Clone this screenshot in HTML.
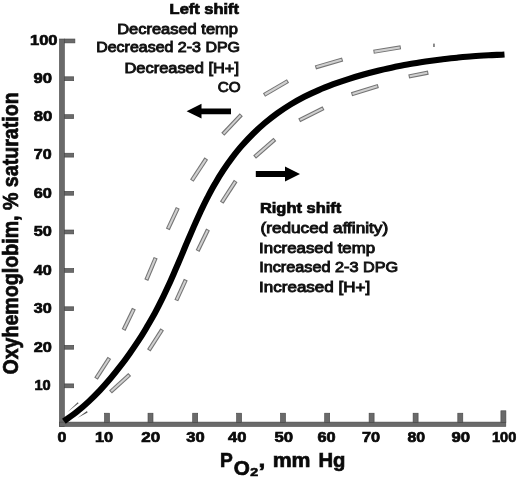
<!DOCTYPE html>
<html><head><meta charset="utf-8"><title>Oxyhemoglobin dissociation curve</title>
<style>html,body{margin:0;padding:0;background:#fff}svg{display:block}text{font-family:"Liberation Sans",Arial,Helvetica,sans-serif;fill:#111}.b{font-weight:bold}.n{stroke:#111;stroke-width:.9px}.b{stroke:#0a0a0a;stroke-width:.7px;fill:#0a0a0a}</style></head><body>
<svg width="520" height="478" viewBox="0 0 520 478">
<rect width="520" height="478" fill="#fff"/>
<g fill="#6a6a6a" stroke="#444" stroke-width="0.6">
<rect x="59.5" y="39" width="4.8" height="387.4"/>
<rect x="59.5" y="422.1" width="446.3" height="4.3"/>
<rect x="64.3" y="39.0" width="10.6" height="3.9"/>
<rect x="64.3" y="76.8" width="9.4" height="3.9"/>
<rect x="64.3" y="114.7" width="9.4" height="3.9"/>
<rect x="64.3" y="153.2" width="9.4" height="3.9"/>
<rect x="64.3" y="191.3" width="9.4" height="3.9"/>
<rect x="64.3" y="230.0" width="9.4" height="3.9"/>
<rect x="64.3" y="268.4" width="9.4" height="3.9"/>
<rect x="64.3" y="306.8" width="9.4" height="3.9"/>
<rect x="64.3" y="345.3" width="9.4" height="3.9"/>
<rect x="64.3" y="383.9" width="9.4" height="3.9"/>
<rect x="104.5" y="413.2" width="5" height="9.2"/>
<rect x="148.0" y="413.2" width="5" height="9.2"/>
<rect x="192.7" y="413.2" width="5" height="9.2"/>
<rect x="236.6" y="413.2" width="5" height="9.2"/>
<rect x="280.5" y="413.2" width="5" height="9.2"/>
<rect x="324.7" y="413.2" width="5" height="9.2"/>
<rect x="369.1" y="413.2" width="5" height="9.2"/>
<rect x="413.1" y="413.2" width="5" height="9.2"/>
<rect x="457.8" y="413.2" width="5" height="9.2"/>
<rect x="500.9" y="410.8" width="5" height="11.6"/>
</g>
<g stroke="#747474" stroke-width="4.2" fill="none">
<line x1="96.0" y1="378.6" x2="109.4" y2="357.9"/>
<line x1="123.6" y1="330.0" x2="133.9" y2="308.7"/>
<line x1="146.3" y1="280.1" x2="155.7" y2="257.7"/>
<line x1="167.8" y1="229.3" x2="177.8" y2="207.8"/>
<line x1="191.8" y1="180.6" x2="206.3" y2="158.5"/>
<line x1="222.8" y1="134.3" x2="241.3" y2="114.7"/>
<line x1="264.0" y1="95.0" x2="288.0" y2="81.0"/>
<line x1="315.4" y1="67.4" x2="342.6" y2="59.4"/>
<line x1="373.5" y1="51.8" x2="400.8" y2="47.3"/>
<line x1="110.5" y1="392.0" x2="129.7" y2="374.5"/>
<line x1="148.8" y1="350.3" x2="162.2" y2="329.4"/>
<line x1="176.3" y1="300.5" x2="185.8" y2="279.7"/>
<line x1="197.6" y1="251.0" x2="208.0" y2="229.5"/>
<line x1="221.7" y1="202.6" x2="235.7" y2="181.0"/>
<line x1="254.6" y1="157.1" x2="274.9" y2="139.3"/>
<line x1="299.2" y1="120.4" x2="323.5" y2="108.1"/>
<line x1="351.5" y1="94.2" x2="378.3" y2="86.0"/>
<line x1="408.7" y1="76.5" x2="428.3" y2="72.6"/>
</g>
<g stroke="#d0d0d0" stroke-width="2.1" fill="none">
<line x1="96.5" y1="377.8" x2="108.9" y2="358.7"/>
<line x1="124.0" y1="329.1" x2="133.5" y2="309.6"/>
<line x1="146.7" y1="279.2" x2="155.3" y2="258.6"/>
<line x1="168.2" y1="228.4" x2="177.4" y2="208.7"/>
<line x1="192.3" y1="179.8" x2="205.8" y2="159.3"/>
<line x1="223.5" y1="133.6" x2="240.6" y2="115.4"/>
<line x1="264.9" y1="94.5" x2="287.1" y2="81.5"/>
<line x1="316.4" y1="67.1" x2="341.6" y2="59.7"/>
<line x1="374.5" y1="51.6" x2="399.8" y2="47.5"/>
<line x1="111.2" y1="391.3" x2="129.0" y2="375.2"/>
<line x1="149.3" y1="349.5" x2="161.7" y2="330.2"/>
<line x1="176.7" y1="299.6" x2="185.4" y2="280.6"/>
<line x1="198.0" y1="250.1" x2="207.6" y2="230.4"/>
<line x1="222.2" y1="201.8" x2="235.2" y2="181.8"/>
<line x1="255.4" y1="156.4" x2="274.1" y2="140.0"/>
<line x1="300.1" y1="119.9" x2="322.6" y2="108.6"/>
<line x1="352.5" y1="93.9" x2="377.3" y2="86.3"/>
<line x1="409.7" y1="76.3" x2="427.3" y2="72.8"/>
</g>
<g fill="#555"><path d="M67.3 412.2L77.8 402.2L78.6 403.2Z"/><path d="M77.4 418L87 411L87.6 412.4Z"/></g>
<rect x="433" y="43.6" width="1.9" height="3.4" fill="#888"/>
<path d="M63.9 421.2C66.0 419.6 72.5 415.2 76.7 411.9C80.8 408.6 84.8 405.2 88.6 401.6C92.5 398.0 96.2 394.3 99.9 390.4C103.5 386.6 107.0 382.6 110.4 378.6C113.8 374.5 117.1 370.4 120.3 366.2C123.6 362.0 126.7 357.7 129.7 353.4C132.8 349.1 135.7 344.8 138.6 340.4C141.5 335.9 144.3 331.5 146.9 326.9C149.6 322.4 152.2 317.8 154.8 313.2C157.3 308.6 159.7 303.9 162.0 299.2C164.4 294.4 166.6 289.6 168.8 284.8C171.0 280.0 173.1 275.1 175.2 270.3C177.3 265.4 179.4 260.5 181.5 255.6C183.5 250.8 185.5 245.8 187.6 241.0C189.7 236.1 191.8 231.2 193.9 226.4C196.0 221.5 198.2 216.7 200.4 211.9C202.7 207.2 205.0 202.4 207.4 197.7C209.8 193.1 212.2 188.4 214.9 183.9C217.5 179.3 220.2 174.8 223.1 170.5C226.0 166.1 229.0 161.8 232.2 157.6C235.4 153.4 238.7 149.2 242.2 145.3C245.7 141.3 249.3 137.4 253.1 133.7C256.9 130.0 260.8 126.4 264.8 123.0C268.9 119.6 273.0 116.3 277.3 113.2C281.6 110.2 286.0 107.3 290.5 104.5C295.0 101.8 299.7 99.2 304.3 96.8C309.0 94.4 313.8 92.2 318.7 90.1C323.5 88.0 328.4 86.1 333.4 84.2C338.4 82.4 343.4 80.7 348.4 79.1C353.5 77.4 358.5 75.9 363.6 74.5C368.7 73.1 373.8 71.8 379.0 70.5C384.1 69.3 389.2 68.1 394.4 67.0C399.6 66.0 404.7 65.0 409.9 64.1C415.1 63.1 420.3 62.3 425.6 61.5C430.8 60.8 436.0 60.1 441.2 59.4C446.5 58.8 451.7 58.2 457.0 57.7C462.3 57.2 467.5 56.7 472.8 56.3C478.1 55.9 483.3 55.6 488.6 55.3C493.9 55.0 501.8 54.7 504.5 54.5" fill="none" stroke="#000" stroke-width="6.1"/>
<path d="M186.6 111.2L201.5 103.8V108.4H231V114.2H201.5V118.6Z" fill="#000"/>
<path d="M300 174L285 166.5V170.9H255.8V176.9H285V181.5Z" fill="#000"/>
<text class="b" x="57.50" y="442.0" font-size="14.6" textLength="8.88" lengthAdjust="spacingAndGlyphs">0</text>
<text class="b" x="95.00" y="442.0" font-size="14.6" textLength="18.13" lengthAdjust="spacingAndGlyphs">10</text>
<text class="b" x="141.25" y="442.0" font-size="14.6" textLength="18.89" lengthAdjust="spacingAndGlyphs">20</text>
<text class="b" x="186.25" y="442.0" font-size="14.6" textLength="18.38" lengthAdjust="spacingAndGlyphs">30</text>
<text class="b" x="228.00" y="442.0" font-size="14.6" textLength="18.38" lengthAdjust="spacingAndGlyphs">40</text>
<text class="b" x="274.50" y="442.0" font-size="14.6" textLength="18.63" lengthAdjust="spacingAndGlyphs">50</text>
<text class="b" x="317.50" y="442.0" font-size="14.6" textLength="18.13" lengthAdjust="spacingAndGlyphs">60</text>
<text class="b" x="362.00" y="442.0" font-size="14.6" textLength="18.13" lengthAdjust="spacingAndGlyphs">70</text>
<text class="b" x="407.50" y="442.0" font-size="14.6" textLength="17.63" lengthAdjust="spacingAndGlyphs">80</text>
<text class="b" x="451.50" y="442.0" font-size="14.6" textLength="18.63" lengthAdjust="spacingAndGlyphs">90</text>
<text class="b" x="492.00" y="442.0" font-size="14.6" textLength="24.32" lengthAdjust="spacingAndGlyphs">100</text>
<text class="b" x="30.00" y="44.8" font-size="14.6" textLength="27.53" lengthAdjust="spacingAndGlyphs">100</text>
<text class="b" x="33.40" y="83.0" font-size="14.6" textLength="18.53" lengthAdjust="spacingAndGlyphs">90</text>
<text class="b" x="33.80" y="120.9" font-size="14.6" textLength="18.53" lengthAdjust="spacingAndGlyphs">80</text>
<text class="b" x="33.80" y="159.4" font-size="14.6" textLength="17.83" lengthAdjust="spacingAndGlyphs">70</text>
<text class="b" x="33.80" y="197.5" font-size="14.6" textLength="18.13" lengthAdjust="spacingAndGlyphs">60</text>
<text class="b" x="33.80" y="236.2" font-size="14.6" textLength="18.13" lengthAdjust="spacingAndGlyphs">50</text>
<text class="b" x="33.80" y="274.6" font-size="14.6" textLength="18.03" lengthAdjust="spacingAndGlyphs">40</text>
<text class="b" x="33.80" y="313.0" font-size="14.6" textLength="18.03" lengthAdjust="spacingAndGlyphs">30</text>
<text class="b" x="33.80" y="351.5" font-size="14.6" textLength="18.13" lengthAdjust="spacingAndGlyphs">20</text>
<text class="b" x="34.40" y="390.1" font-size="14.6" textLength="16.22" lengthAdjust="spacingAndGlyphs">10</text>
<text class="b" x="169.60" y="13.6" font-size="14.4" textLength="69.46" lengthAdjust="spacingAndGlyphs">Left shift</text>
<text class="n" x="117.16" y="33.5" font-size="14.4" textLength="120.75" lengthAdjust="spacingAndGlyphs">Decreased temp</text>
<text class="n" x="96.19" y="52.4" font-size="14.4" textLength="143.82" lengthAdjust="spacingAndGlyphs">Decreased 2-3 DPG</text>
<text class="n" x="124.46" y="72.7" font-size="14.4" textLength="114.58" lengthAdjust="spacingAndGlyphs">Decreased [H+]</text>
<text class="n" x="217.80" y="92.1" font-size="14.4" textLength="22.80" lengthAdjust="spacingAndGlyphs">CO</text>
<text class="b" x="259.90" y="212.6" font-size="14.4" textLength="81.36" lengthAdjust="spacingAndGlyphs">Right shift</text>
<text class="n" x="260.50" y="232.8" font-size="14.4" textLength="127.65" lengthAdjust="spacingAndGlyphs">(reduced affinity)</text>
<text class="n" x="259.13" y="252.6" font-size="14.4" textLength="115.97" lengthAdjust="spacingAndGlyphs">Increased temp</text>
<text class="n" x="259.17" y="272.4" font-size="14.4" textLength="139.05" lengthAdjust="spacingAndGlyphs">Increased 2-3 DPG</text>
<text class="n" x="259.12" y="291.7" font-size="14.4" textLength="111.06" lengthAdjust="spacingAndGlyphs">Increased [H+]</text>
<text class="b" x="220.04" y="466.5" font-size="20.0" textLength="12.78" lengthAdjust="spacingAndGlyphs">P</text>
<text class="b" x="233.80" y="474.5" font-size="20.0" textLength="16.08" lengthAdjust="spacingAndGlyphs">O</text>
<text class="b" x="250.30" y="475.5" font-size="11.3" textLength="7.85" lengthAdjust="spacingAndGlyphs">2</text>
<text class="b" x="258.60" y="466.5" font-size="20.3" textLength="6.76" lengthAdjust="spacingAndGlyphs">,</text>
<text class="b" x="272.65" y="466.5" font-size="20.3" textLength="37.83" lengthAdjust="spacingAndGlyphs">mm</text>
<text class="b" x="318.40" y="466.5" font-size="20.3" textLength="26.99" lengthAdjust="spacingAndGlyphs">Hg</text>
<text class="b" font-size="22" transform="translate(18.1 374.6) rotate(-90)" x="0.00" textLength="282.29" lengthAdjust="spacingAndGlyphs">Oxyhemoglobim, % saturation</text>
</svg></body></html>
